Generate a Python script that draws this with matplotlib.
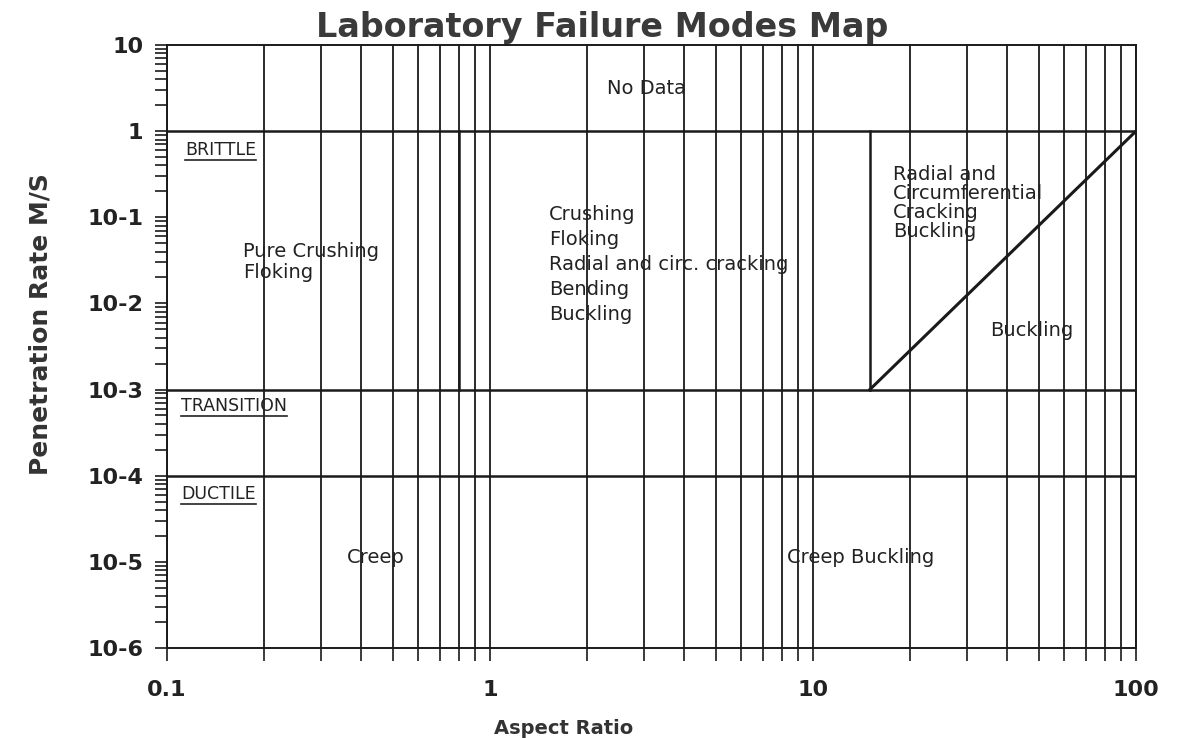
import matplotlib
matplotlib.use("Agg")
import matplotlib.pyplot as plt
from matplotlib.ticker import FixedLocator, NullFormatter

# region boundaries (aspect ratio, penetration rate m/s)
regime_rates = [1.0, 1e-3, 1e-4]
split_ratios = [0.8, 15.0]
split_rate_span = [1e-3, 1.0]
diag_ratio = [15.0, 100.0]
diag_rate = [1e-3, 1.0]

# axis ticks
x_major = [0.1, 1, 10, 100]
x_major_labels = ["0.1", "1", "10", "100"]
y_major = [10, 1, 1e-1, 1e-2, 1e-3, 1e-4, 1e-5, 1e-6]
y_major_labels = ["10", "1", "10-1", "10-2", "10-3", "10-4", "10-5", "10-6"]

# regime labels (underlined) and failure-mode notes
regime_names = ["BRITTLE", "TRANSITION", "DUCTILE"]
regime_x = [0.114, 0.1105, 0.1105]
regime_y = [0.60, 6.4e-4, 6.2e-5]

notes = [
    "No Data",
    "Pure Crushing\nFloking",
    "Crushing\nFloking\nRadial and circ. cracking\nBending\nBuckling",
    "Radial and\nCircumferential\nCracking\nBuckling",
    "Buckling",
    "Creep",
    "Creep Buckling",
]
notes_x = [2.30, 0.172, 1.52, 17.7, 35.3, 0.361, 8.3]
notes_y = [3.16, 0.030, 0.0286, 0.146, 0.0049, 1.13e-5, 1.13e-5]
notes_spacing = [1.2, 1.15, 1.4, 1.0, 1.2, 1.2, 1.2]

fig = plt.figure(figsize=(11.86, 7.38), dpi=100)
ax = fig.add_axes([0.1408, 0.122, 0.8170, 0.817])
ax.set_xscale("log")
ax.set_yscale("log")
ax.set_xlim(0.1, 100)
ax.set_ylim(1e-6, 10)

for r in regime_rates:
    ax.plot([0.1, 100], [r, r], color="#1a1a1a", lw=1.8, solid_capstyle="butt")
for s in split_ratios:
    ax.plot([s, s], split_rate_span, color="#1a1a1a", lw=1.8)
ax.plot(diag_ratio, diag_rate, color="#1a1a1a", lw=2.2)

ax.xaxis.set_major_locator(FixedLocator(x_major))
ax.set_xticklabels(x_major_labels, fontsize=16, fontweight="bold", color="#222222")
ax.yaxis.set_major_locator(FixedLocator(y_major))
ax.set_yticklabels(y_major_labels, fontsize=16, fontweight="bold", color="#222222")
ax.xaxis.set_minor_formatter(NullFormatter())
ax.yaxis.set_minor_formatter(NullFormatter())
ax.tick_params(axis="both", which="both", direction="out", length=9, width=1.2, color="#1a1a1a")
ax.tick_params(axis="x", which="major", pad=14)
ax.tick_params(axis="y", which="major", pad=8)
ax.grid(True, which="both", axis="x", color="#1a1a1a", lw=1.3)
for sp in ax.spines.values():
    sp.set_color("#1a1a1a")
    sp.set_linewidth(1.4)

for name, x, y in zip(regime_names, regime_x, regime_y):
    ax.text(x, y, name, fontsize=12.5, va="center", ha="left", color="#222222")

for t, x, y, ls in zip(notes, notes_x, notes_y, notes_spacing):
    ax.text(x, y, t, fontsize=14, va="center", ha="left", color="#222222", linespacing=ls)

fig.text(0.5076, 0.95, "Laboratory Failure Modes Map", fontsize=24, fontweight="bold",
         color="#3a3a3a", ha="center", va="baseline")
fig.text(0.034, 0.561, "Penetration Rate M/S", fontsize=18, fontweight="bold",
         color="#333333", rotation=90, ha="center", va="center")
fig.text(0.4755, 0.0135, "Aspect Ratio", fontsize=14, fontweight="bold",
         color="#333333", ha="center", va="center")

# underline the regime names
fig.canvas.draw()
renderer = fig.canvas.get_renderer()
inv = ax.transAxes.inverted()
for txt in ax.texts[:len(regime_names)]:
    bb = txt.get_window_extent(renderer)
    (x0, y0), (x1, _) = inv.transform([(bb.x0, bb.y0 - 1), (bb.x1, bb.y0 - 1)])
    ax.plot([x0, x1], [y0, y0], transform=ax.transAxes, color="#222222", lw=1.2)

fig.savefig("out.png", dpi=100)
